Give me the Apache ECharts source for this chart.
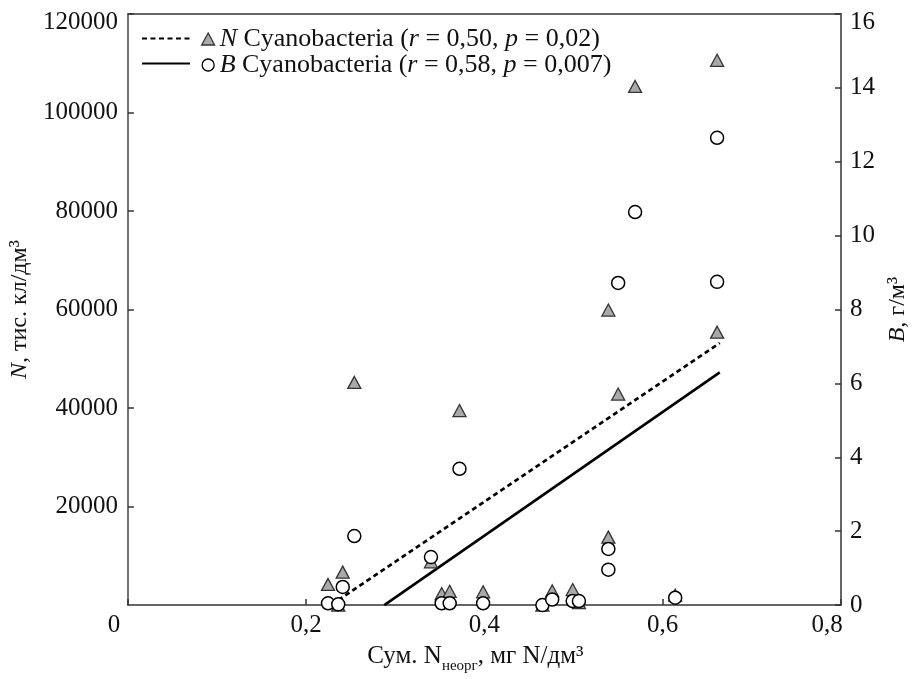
<!DOCTYPE html>
<html>
<head>
<meta charset="utf-8">
<script src="https://cdn.jsdelivr.net/npm/echarts@6/dist/echarts.min.js"></script>
<style>
html,body{margin:0;padding:0;background:#fff;}
#c{width:918px;height:679px;}
</style>
</head>
<body>
<div id="c"></div>
<script>
// ---- data ----
const xTickLabels = ['0', '0,2', '0,4', '0,6', '0,8'];
// N Cyanobacteria (left axis, тис. кл/дм3)
const nX   = [0.2245, 0.236, 0.241, 0.254, 0.372, 0.340, 0.352, 0.361, 0.3985, 0.465, 0.476, 0.499, 0.506, 0.539, 0.539, 0.550, 0.569, 0.614, 0.661, 0.661];
const nVal = [4200,   0,     6700,  45200, 39500, 8800,  2350,  2800,  2700,   0,     2900,  3150,  500,   59900, 13800, 42850, 105300, 2000, 110600, 55400];
// B Cyanobacteria (right axis, г/м3)
const bX   = [0.2245, 0.236, 0.241, 0.254, 0.372, 0.340, 0.352, 0.361, 0.3985, 0.465, 0.476, 0.499, 0.506, 0.539, 0.539, 0.550, 0.569, 0.614, 0.661, 0.661];
const bVal = [0.05,   0.02,  0.49,  1.87,  3.69,  1.30,  0.05,  0.05,  0.05,   0.0,   0.15,  0.11,  0.11,  1.52,  0.96,  8.72,  10.64, 0.20,  12.65, 8.75];
// regression lines
const nFitX = [0.236, 0.664];
const nFitY = [1000, 53200];
const bFitX = [0.2876, 0.664];
const bFitY = [0, 6.3];

const legendN = '{i|N} Cyanobacteria ({i|r} = 0,50, {i|p} = 0,02)';
const legendB = '{i|B} Cyanobacteria ({i|r} = 0,58, {i|p} = 0,007)';

const zip = (a, b) => a.map((v, i) => [v, b[i]]);
const FF = '"Liberation Serif", "DejaVu Serif", serif';
const TXT = '#111';
const CLEAR = 'rgba(0,0,0,0)';

const chart = echarts.init(document.getElementById('c'), null, {renderer: 'canvas'});
const option = {
  animation: false,
  backgroundColor: '#fff',
  grid: {left: 125, right: 64, top: 14, bottom: 67, containLabel: false},
  legend: [
    {
      data: ['nfit', 'bfit'], orient: 'vertical', left: 141, top: 26, padding: 0,
      itemWidth: 48, itemHeight: 12, itemGap: 0, selectedMode: false,
      itemStyle: {color: CLEAR, borderColor: CLEAR, borderWidth: 0},
      formatter: () => ' ', textStyle: {fontSize: 10, lineHeight: 25}
    },
    {
      data: ['nsc', 'bsc'], orient: 'vertical', left: 201, top: 26, padding: 0,
      itemWidth: 13, itemHeight: 12, itemGap: 0, selectedMode: false,
      itemStyle: {borderWidth: 1.3},
      formatter: name => name === 'nsc' ? legendN : legendB,
      textStyle: {
        fontFamily: FF, fontSize: 26, color: TXT, lineHeight: 25,
        rich: {i: {fontFamily: FF, fontSize: 26, fontStyle: 'italic', color: TXT, lineHeight: 25}}
      }
    }
  ],
  xAxis: [
    {
      type: 'value', min: 0, max: 0.8, interval: 0.2, position: 'bottom',
      axisLine: {show: true, onZero: false, lineStyle: {color: '#333', width: 1.5}},
      axisTick: {show: true, inside: true, length: 6, lineStyle: {color: '#333', width: 1.5}},
      splitLine: {show: false},
      axisLabel: {
        margin: 8, fontFamily: FF, fontSize: 25, color: TXT,
        formatter: v => {
          const s = xTickLabels[Math.round(v / 0.2)];
          return (v === 0 || Math.abs(v - 0.8) < 1e-9) ? '{l|' + s + '}' : s;
        },
        rich: {l: {fontFamily: FF, fontSize: 25, color: TXT, padding: [0, 28, 0, 0]}}
      },
      name: 'Сум. N{s|неорг}, мг N/дм³',
      nameLocation: 'middle', nameGap: 34,
      nameTextStyle: {
        fontFamily: FF, fontSize: 25, color: TXT, lineHeight: 26, verticalAlign: 'top',
        padding: [0, 18, 0, 0],
        rich: {s: {fontFamily: FF, fontSize: 15, color: TXT, lineHeight: 18, verticalAlign: 'top', padding: [16, 0, 0, 0]}}
      }
    },
    {
      type: 'value', min: 0, max: 0.8, position: 'top',
      axisLine: {show: true, onZero: false, lineStyle: {color: '#666', width: 2}},
      axisTick: {show: false}, axisLabel: {show: false}, splitLine: {show: false}
    }
  ],
  yAxis: [
    {
      type: 'value', min: 0, max: 120000, interval: 20000, position: 'left',
      axisLine: {show: true, onZero: false, lineStyle: {color: '#444', width: 1.5}},
      axisTick: {show: true, inside: true, length: 6, lineStyle: {color: '#333', width: 1.5}},
      splitLine: {show: false},
      axisLabel: {
        showMinLabel: false, margin: 10, fontFamily: FF, fontSize: 25, color: TXT,
        formatter: v => v === 120000 ? '{t|' + v + '}' : String(v),
        rich: {t: {fontFamily: FF, fontSize: 25, color: TXT, padding: [16, 0, 0, 0]}}
      },
      name: '{i|N}, тис. кл/дм³', nameLocation: 'middle', nameRotate: 90, nameGap: 84,
      nameTextStyle: {
        fontFamily: FF, fontSize: 24, color: TXT,
        rich: {i: {fontFamily: FF, fontSize: 24, fontStyle: 'italic', color: TXT}}
      }
    },
    {
      type: 'value', min: 0, max: 16, interval: 2, position: 'right',
      axisLine: {show: true, onZero: false, lineStyle: {color: '#333', width: 1.5}},
      axisTick: {show: true, inside: true, length: 6, lineStyle: {color: '#333', width: 1.5}},
      splitLine: {show: false},
      axisLabel: {
        margin: 9, fontFamily: FF, fontSize: 25, color: TXT,
        formatter: v => v === 16 ? '{t|' + v + '}' : String(v),
        rich: {t: {fontFamily: FF, fontSize: 25, color: TXT, padding: [16, 0, 0, 0]}}
      },
      name: '{i|B}, г/м³', nameLocation: 'middle', nameRotate: 90, nameGap: 45,
      nameTextStyle: {
        fontFamily: FF, fontSize: 24, color: TXT,
        rich: {i: {fontFamily: FF, fontSize: 24, fontStyle: 'italic', color: TXT}}
      }
    }
  ],
  series: [
    {
      name: 'nfit', type: 'line', xAxisIndex: 0, yAxisIndex: 0, symbol: 'none', z: 2,
      data: zip(nFitX, nFitY),
      lineStyle: {color: '#000', width: 2.6, type: [5, 3.5]}, itemStyle: {color: '#000'}
    },
    {
      name: 'bfit', type: 'line', xAxisIndex: 0, yAxisIndex: 1, symbol: 'none', z: 2,
      data: zip(bFitX, bFitY),
      lineStyle: {color: '#000', width: 2.6, type: 'solid'}, itemStyle: {color: '#000'}
    },
    {
      name: 'nsc', type: 'scatter', xAxisIndex: 0, yAxisIndex: 0, z: 3,
      symbol: 'triangle', symbolSize: [13, 12],
      data: zip(nX, nVal),
      itemStyle: {color: '#a9a9a9', borderColor: '#333', borderWidth: 1.3, opacity: 1}
    },
    {
      name: 'bsc', type: 'scatter', xAxisIndex: 0, yAxisIndex: 1, z: 4,
      symbol: 'circle', symbolSize: 13,
      data: zip(bX, bVal),
      itemStyle: {color: '#fff', borderColor: '#000', borderWidth: 1.5, opacity: 1}
    }
  ]
};
chart.setOption(option);
</script>
</body>
</html>
